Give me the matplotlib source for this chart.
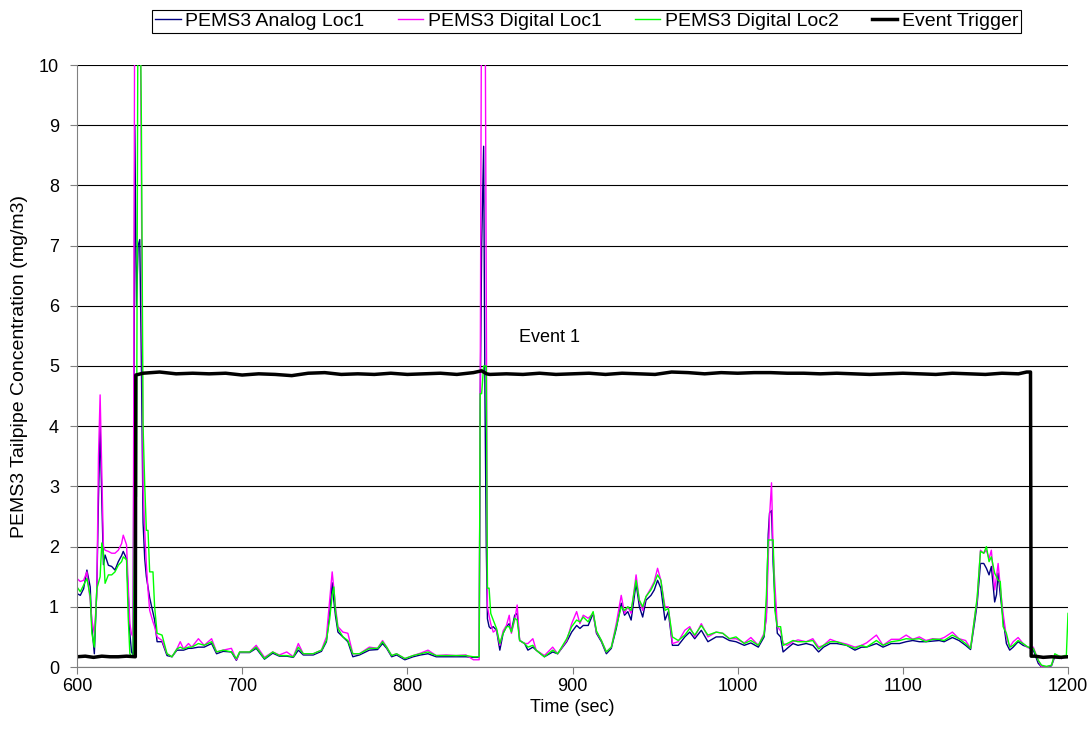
import matplotlib
matplotlib.use("Agg")
import matplotlib.pyplot as plt

plt.rcParams['font.family'] = ['Liberation Sans', 'DejaVu Sans']

# ---- data ----
time_s = [600, 602, 604, 606, 608, 609, 610.5, 612, 613, 614, 615, 616, 617, 619, 621, 623, 625, 627, 628, 630,
          631, 632, 633, 634, 635, 636, 637, 638, 639, 640, 641, 642, 643, 644, 646, 647, 648.5, 651.5, 654.5, 657.5,
          660.5, 662.5, 664.5, 667.5, 669.5, 673.5, 677, 681.5, 684.5, 688.5, 693.5, 696.5, 698.5, 704.5, 708.5, 713.5,
          718.5, 722.5, 727, 731, 734, 737, 743, 748, 751, 753, 754.5, 755.5, 756.5, 758, 761, 764, 767, 771, 777, 782,
          785, 787.5, 790.5, 793.5, 798.5, 803.5, 808, 812.5, 817.5, 823.5, 829.5, 835.5, 840, 843.5, 844.1, 845, 846.2,
          847, 847.8, 848.5, 849.5, 850.5, 852, 854, 856, 858, 860, 861.7, 863, 865, 866.5, 868, 871, 873, 876, 878, 883,
          888, 891, 896.5, 899.5, 902.5, 904.5, 906.5, 909.5, 912.5, 914.5, 917.5, 920.5, 923.5, 926.5, 929.5, 931.5,
          933.5, 935.5, 938.5, 940.5, 942.5, 944.5, 947.5, 949.5, 951.5, 953.5, 956, 958, 960.5, 964, 968, 971, 974,
          978, 982, 987, 991, 995, 999, 1004, 1008, 1012.5, 1016, 1017.4, 1018.5, 1019.3, 1020.5, 1021.5, 1022.5, 1024,
          1026, 1027.5, 1030, 1033.5, 1036.5, 1041.5, 1045.5, 1049, 1052, 1056, 1060, 1066, 1071, 1075, 1078, 1084,
          1088, 1093, 1098, 1102, 1106, 1110, 1114, 1118, 1122, 1125, 1130, 1134, 1138, 1141, 1143.5, 1145, 1147, 1149,
          1150.6, 1152.2, 1153.6, 1155.6, 1156.7, 1157.7, 1159, 1160.7, 1162.7, 1164.7, 1166.8, 1169.8, 1172.8, 1175.8,
          1179, 1182, 1184, 1187, 1190, 1192, 1194, 1196, 1198, 1199, 1200]

analog_loc1 = [1.22, 1.19, 1.30, 1.61, 1.33, 0.67, 0.22, 1.30, 2.8, 4.0, 2.8, 1.7, 1.86, 1.69, 1.67, 1.61, 1.75, 1.85, 1.92, 1.80,
               1.22, 0.56, 0.25, 0.20, 9.0, 6.0, 7.0, 7.1, 5.0, 2.4, 1.8, 1.5, 1.33, 1.15, 0.90, 0.78, 0.42, 0.42, 0.19, 0.17,
               0.28, 0.28, 0.28, 0.31, 0.31, 0.33, 0.33, 0.39, 0.22, 0.26, 0.25, 0.11, 0.24, 0.24, 0.31, 0.13,
               0.23, 0.18, 0.18, 0.16, 0.28, 0.20, 0.20, 0.26, 0.42, 0.90, 1.40, 1.10, 0.85, 0.58, 0.50, 0.42, 0.17, 0.20, 0.28, 0.29,
               0.39, 0.31, 0.17, 0.20, 0.12, 0.17, 0.20, 0.22, 0.17, 0.17, 0.17, 0.17, 0.16, 0.16, 4.3, 7.0, 8.65,
               4.5, 2.0, 0.80, 0.67, 0.64, 0.67, 0.61, 0.28, 0.56, 0.67, 0.72, 0.60, 0.86, 0.89, 0.44, 0.39, 0.28, 0.33, 0.28, 0.17,
               0.25, 0.22, 0.42, 0.58, 0.69, 0.64, 0.69, 0.69, 0.89, 0.56, 0.42, 0.22, 0.31, 0.64, 1.06, 0.86,
               0.92, 0.78, 1.39, 1.00, 0.83, 1.11, 1.19, 1.28, 1.44, 1.31, 0.78, 0.92, 0.36, 0.36, 0.50, 0.58, 0.47,
               0.61, 0.42, 0.50, 0.50, 0.44, 0.42, 0.36, 0.40, 0.33, 0.50, 0.90, 2.2, 2.56, 2.6, 1.7, 1.17, 0.56,
               0.50, 0.25, 0.31, 0.39, 0.36, 0.39, 0.36, 0.25, 0.33, 0.39, 0.39, 0.36, 0.28, 0.33, 0.33, 0.39,
               0.33, 0.39, 0.39, 0.42, 0.44, 0.42, 0.42, 0.43, 0.44, 0.42, 0.49, 0.44, 0.36, 0.29, 0.75, 1.05, 1.72, 1.72,
               1.64, 1.53, 1.67, 1.08, 1.20, 1.56, 1.20, 0.80, 0.39, 0.28, 0.33, 0.42, 0.36, 0.33,
               0.28, 0.06, 0.00, 0.00, 0.02, 0.17, 0.17, 0.14, 0.17, 0.17, 0.17]

digital_loc1 = [1.47, 1.42, 1.44, 1.58, 1.10, 0.78, 0.56, 1.20, 3.5, 4.52, 3.3, 2.0, 1.94, 1.92, 1.89, 1.89, 1.94, 2.05, 2.19, 2.03,
                1.39, 0.72, 0.55, 0.50, 12.0, 12.0, 11.0, 12.0, 8.0, 3.0, 2.28, 1.70, 1.28, 0.94, 0.75, 0.67, 0.50, 0.44, 0.22, 0.17,
                0.30, 0.42, 0.30, 0.39, 0.33, 0.47, 0.36, 0.47, 0.25, 0.28, 0.31, 0.12, 0.25, 0.25, 0.36, 0.16,
                0.25, 0.20, 0.25, 0.17, 0.39, 0.22, 0.22, 0.28, 0.50, 1.11, 1.58, 1.30, 1.00, 0.67, 0.58, 0.56, 0.22, 0.22, 0.33, 0.31,
                0.44, 0.33, 0.19, 0.22, 0.14, 0.19, 0.23, 0.28, 0.19, 0.20, 0.19, 0.20, 0.12, 0.12, 4.3, 12.0, 12.0,
                12.0, 6.0, 1.00, 0.85, 0.72, 0.58, 0.62, 0.36, 0.60, 0.69, 0.86, 0.56, 0.78, 1.03, 0.44, 0.39, 0.39, 0.47, 0.28, 0.19,
                0.33, 0.22, 0.44, 0.72, 0.92, 0.72, 0.86, 0.81, 0.89, 0.58, 0.44, 0.25, 0.33, 0.72, 1.19, 0.89,
                1.00, 0.89, 1.53, 1.10, 0.94, 1.17, 1.31, 1.42, 1.64, 1.44, 1.00, 1.00, 0.39, 0.42, 0.61, 0.67, 0.50,
                0.72, 0.50, 0.58, 0.56, 0.47, 0.47, 0.40, 0.49, 0.36, 0.56, 0.80, 1.8, 2.5, 3.06, 1.9, 1.39, 0.67,
                0.60, 0.39, 0.36, 0.42, 0.45, 0.42, 0.47, 0.33, 0.36, 0.46, 0.42, 0.38, 0.33, 0.36, 0.40, 0.53,
                0.36, 0.46, 0.46, 0.53, 0.46, 0.50, 0.44, 0.47, 0.46, 0.49, 0.58, 0.47, 0.44, 0.31, 0.83, 1.11, 1.94, 1.89,
                1.94, 1.80, 1.94, 1.28, 1.50, 1.72, 1.33, 0.89, 0.50, 0.33, 0.42, 0.49, 0.39, 0.32,
                0.33, 0.11, 0.00, 0.00, 0.03, 0.19, 0.19, 0.14, 0.19, 0.17, 0.17]

digital_loc2 = [1.33, 1.25, 1.36, 1.47, 1.17, 0.56, 0.33, 1.30, 1.40, 1.50, 2.06, 1.90, 1.39, 1.53, 1.53, 1.58, 1.69, 1.75, 1.83, 1.78,
                0.83, 0.22, 0.17, 0.17, 2.83, 2.83, 12.0, 12.0, 9.0, 4.0, 3.03, 2.27, 2.27, 1.58, 1.58, 1.00, 0.56, 0.53, 0.22, 0.17,
                0.30, 0.33, 0.30, 0.33, 0.33, 0.39, 0.36, 0.42, 0.25, 0.28, 0.25, 0.14, 0.25, 0.25, 0.33, 0.14,
                0.25, 0.19, 0.19, 0.17, 0.33, 0.22, 0.22, 0.28, 0.44, 0.80, 1.20, 1.33, 0.94, 0.64, 0.50, 0.44, 0.22, 0.22, 0.31, 0.31,
                0.42, 0.33, 0.19, 0.22, 0.14, 0.19, 0.22, 0.25, 0.19, 0.19, 0.19, 0.19, 0.17, 0.17, 4.54, 4.54, 5.0,
                5.0, 5.0, 1.31, 1.31, 0.89, 0.78, 0.64, 0.39, 0.56, 0.67, 0.67, 0.58, 0.81, 0.78, 0.44, 0.39, 0.33, 0.36, 0.28, 0.17,
                0.28, 0.22, 0.47, 0.67, 0.78, 0.75, 0.83, 0.75, 0.92, 0.60, 0.44, 0.25, 0.33, 0.67, 1.00, 0.94,
                1.00, 0.94, 1.44, 1.11, 1.00, 1.17, 1.28, 1.39, 1.53, 1.44, 0.94, 0.97, 0.50, 0.44, 0.53, 0.64, 0.53,
                0.69, 0.53, 0.58, 0.56, 0.47, 0.50, 0.39, 0.44, 0.36, 0.53, 1.20, 2.11, 2.11, 2.11, 2.11, 0.94, 0.67,
                0.67, 0.36, 0.39, 0.44, 0.42, 0.42, 0.44, 0.30, 0.36, 0.42, 0.42, 0.36, 0.31, 0.36, 0.33, 0.44,
                0.36, 0.42, 0.44, 0.47, 0.46, 0.47, 0.42, 0.46, 0.46, 0.44, 0.53, 0.47, 0.39, 0.31, 0.83, 1.16, 1.92, 1.89,
                2.00, 1.75, 1.83, 1.56, 1.50, 1.44, 1.42, 0.67, 0.56, 0.33, 0.36, 0.44, 0.39, 0.33,
                0.31, 0.11, 0.03, 0.01, 0.03, 0.22, 0.19, 0.17, 0.19, 0.19, 0.89]

trigger_time = [600, 605, 610, 615, 620, 625, 630, 635.3, 635.6, 640, 650, 660, 670, 680, 690, 700, 710, 720, 730, 740,
                750, 760, 770, 780, 790, 800, 810, 820, 830, 840, 845, 848, 850, 860, 870, 880, 890, 900, 910, 920,
                930, 940, 950, 960, 970, 980, 990, 1000, 1010, 1020, 1030, 1040, 1050, 1060, 1070, 1080, 1090, 1100,
                1110, 1120, 1130, 1140, 1150, 1160, 1170, 1175, 1177.3, 1177.7, 1180, 1185, 1190, 1195, 1200]
trigger_value = [0.17, 0.18, 0.16, 0.18, 0.17, 0.17, 0.18, 0.17, 4.85, 4.88, 4.90, 4.87, 4.88, 4.87, 4.88, 4.85, 4.87, 4.86, 4.84, 4.88,
                 4.89, 4.86, 4.87, 4.86, 4.88, 4.86, 4.87, 4.88, 4.86, 4.89, 4.92, 4.87, 4.86, 4.87, 4.86, 4.88, 4.86, 4.87, 4.88, 4.86,
                 4.88, 4.87, 4.86, 4.90, 4.89, 4.87, 4.89, 4.88, 4.89, 4.89, 4.88, 4.88, 4.87, 4.88, 4.87, 4.86, 4.87, 4.88,
                 4.87, 4.86, 4.88, 4.87, 4.86, 4.88, 4.87, 4.90, 4.90, 0.18, 0.18, 0.16, 0.17, 0.16, 0.17]

series_labels = ["PEMS3 Analog Loc1", "PEMS3 Digital Loc1", "PEMS3 Digital Loc2", "Event Trigger"]
x_ticks = [600, 700, 800, 900, 1000, 1100, 1200]
y_ticks = list(range(0, 11))
event_label = "Event 1"
event_pos = (886, 5.48)

FS = 13

# ---- figure ----
fig = plt.figure(figsize=(10.91, 7.38), dpi=100)
ax = fig.add_axes([77 / 1091, 1 - 667 / 738, (1068 - 77) / 1091, (667 - 65) / 738])

ax.plot(time_s, analog_loc1, color='#000080', lw=1.0, label=series_labels[0])
ax.plot(time_s, digital_loc1, color='#FF00FF', lw=1.0, label=series_labels[1])
ax.plot(time_s, digital_loc2, color='#00FF00', lw=1.0, label=series_labels[2])
ax.plot(trigger_time, trigger_value, color='black', lw=2.5, label=series_labels[3])

ax.set_xlim(600, 1200)
ax.set_ylim(0, 10)
ax.set_xticks(x_ticks)
ax.set_yticks(y_ticks)
ax.yaxis.grid(True, color='black', lw=0.8)
ax.set_axisbelow(True)
for s in ['top', 'right']:
    ax.spines[s].set_visible(False)
ax.spines['left'].set_color('#808080')
ax.spines['bottom'].set_color('#808080')
ax.tick_params(axis='both', direction='out', length=5, color='#808080', labelsize=FS)
ax.tick_params(axis='x', pad=3)
ax.tick_params(axis='y', pad=8)

ax.set_xlabel("Time (sec)", fontsize=FS, labelpad=3)
ax.set_ylabel("PEMS3 Tailpipe Concentration (mg/m3)", fontsize=14, labelpad=8)

ax.text(event_pos[0], event_pos[1], event_label, fontsize=FS, ha='center', va='center')

leg = fig.legend(loc='center', bbox_to_anchor=(0.538, 0.971), ncol=4, fontsize=14,
                 frameon=True, fancybox=False, edgecolor='black', framealpha=1,
                 handlelength=1.3, handletextpad=0.25, columnspacing=1.7, borderpad=0.15,
                 borderaxespad=0)
leg.get_frame().set_linewidth(0.8)

fig.savefig("out.png", dpi=100)
